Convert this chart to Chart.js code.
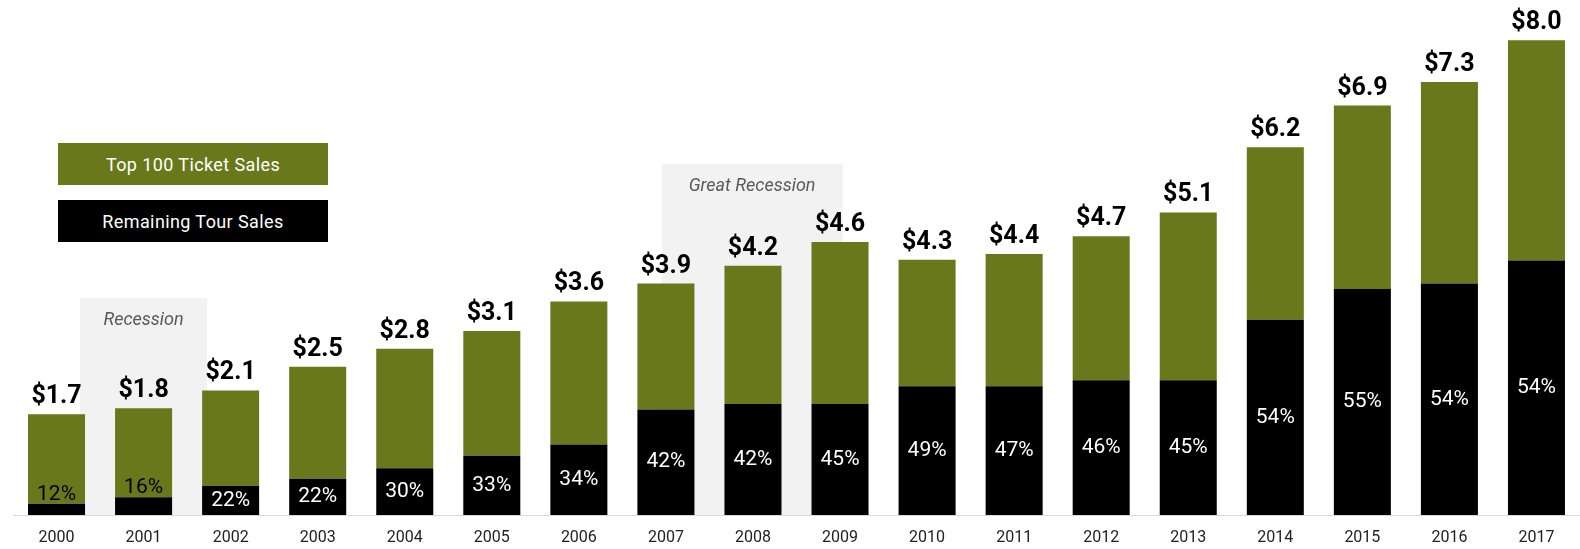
<!DOCTYPE html>
<html>
<head>
<meta charset="utf-8">
<script src="https://cdn.jsdelivr.net/npm/chart.js@4.4.1/dist/chart.umd.min.js"></script>
<style>
  body { margin: 0; background: #fff; }
  .wrap { position: relative; width: 1580px; height: 549px; }
  .legend {
    position: absolute; left: 58px; width: 270px; height: 42px;
    color: #fff; font: 400 18px Roboto, sans-serif; letter-spacing: 0.4px;
    display: flex; align-items: center; justify-content: center;
  }
</style>
</head>
<body>
<div class="wrap">
  <canvas id="chartTours" width="1580" height="549"></canvas>
  <div class="legend" style="top:143px;background:#69781b;">Top 100 Ticket Sales</div>
  <div class="legend" style="top:200px;background:#000;">Remaining Tour Sales</div>
</div>
<script>
// Data (US$ billions)
const years = ["2000", "2001", "2002", "2003", "2004", "2005", "2006", "2007", "2008",
  "2009", "2010", "2011", "2012", "2013", "2014", "2015", "2016", "2017"];
const totals = [1.7, 1.8, 2.1, 2.5, 2.8, 3.1, 3.6, 3.9, 4.2, 4.6, 4.3, 4.4, 4.7, 5.1, 6.2, 6.9, 7.3, 8.0];
const remaining = [0.19, 0.30, 0.49, 0.61, 0.79, 1.0, 1.19, 1.78, 1.87, 1.87, 2.17, 2.17, 2.27, 2.27, 3.29, 3.81, 3.90, 4.29];
const top100 = [1.51, 1.50, 1.61, 1.89, 2.01, 2.10, 2.41, 2.12, 2.33, 2.73, 2.13, 2.23, 2.43, 2.83, 2.91, 3.09, 3.40, 3.71];
const remainingPct = ["12%", "16%", "22%", "22%", "30%", "33%", "34%", "42%", "42%",
  "45%", "49%", "47%", "46%", "45%", "54%", "55%", "54%", "54%"];

// Shaded periods: category index range and top value
const periods = [
  { label: "Recession", from: 0.27, to: 1.73, top: 3.66 },
  { label: "Great Recession", from: 6.95, to: 9.03, top: 5.92 },
];

const shadePlugin = {
  id: "shade",
  beforeDatasetsDraw(chart) {
    const { ctx, scales: { x, y } } = chart;
    ctx.save();
    periods.forEach((p) => {
      const x0 = x.getPixelForValue(p.from);
      const x1 = x.getPixelForValue(p.to);
      const y0 = y.getPixelForValue(p.top);
      const y1 = y.getPixelForValue(0);
      ctx.fillStyle = "#f2f2f2";
      ctx.fillRect(x0, y0, x1 - x0, y1 - y0);
      ctx.fillStyle = "#595959";
      ctx.font = "italic 18px Roboto, sans-serif";
      ctx.textAlign = "center";
      ctx.textBaseline = "middle";
      ctx.fillText(p.label, (x0 + x1) / 2, y0 + 23);
    });
    ctx.restore();
  },
};

const labelPlugin = {
  id: "barLabels",
  afterDatasetsDraw(chart) {
    const { ctx } = chart;
    const black = chart.getDatasetMeta(0).data;
    const green = chart.getDatasetMeta(1).data;
    ctx.save();
    ctx.textAlign = "center";
    green.forEach((bar, i) => {
      ctx.fillStyle = "#000";
      ctx.font = "bold 25px Roboto, sans-serif";
      ctx.textBaseline = "alphabetic";
      ctx.fillText("$" + totals[i].toFixed(1), bar.x, bar.y - 11);
    });
    black.forEach((bar, i) => {
      ctx.font = "21px Roboto, sans-serif";
      ctx.textBaseline = "middle";
      const h = bar.base - bar.y;
      if (h < 26) {
        ctx.fillStyle = "#000";
        ctx.fillText(remainingPct[i], bar.x, bar.y - 9);
      } else {
        ctx.fillStyle = "#fff";
        ctx.fillText(remainingPct[i], bar.x, (bar.y + bar.base) / 2);
      }
    });
    ctx.restore();
  },
};

const ctxTours = document.getElementById("chartTours").getContext("2d");

new Chart(ctxTours, {
  type: "bar",
  data: {
    labels: years,
    datasets: [
      {
        label: "Remaining Tour Sales",
        data: remaining,
        backgroundColor: "#000000",
      },
      {
        label: "Top 100 Ticket Sales",
        data: top100,
        backgroundColor: "#69781b",
      },
    ],
  },
  options: {
    responsive: false,
    animation: false,
    layout: { padding: { left: 13, right: 0, top: 0, bottom: 0 } },
    datasets: {
      bar: { categoryPercentage: 1, barPercentage: 0.655 },
    },
    scales: {
      x: {
        stacked: true,
        grid: { display: false },
        border: { color: "#d9d9d9", width: 1 },
        ticks: {
          color: "#222",
          font: { family: "Roboto", size: 16 },
          padding: 5,
          maxRotation: 0,
        },
        afterFit(scale) {
          scale.height = 34;
        },
      },
      y: {
        stacked: true,
        display: false,
        min: 0,
        max: 8.68,
      },
    },
    plugins: {
      legend: { display: false },
      tooltip: { enabled: false },
    },
  },
  plugins: [shadePlugin, labelPlugin],
});
</script>
</body>
</html>
